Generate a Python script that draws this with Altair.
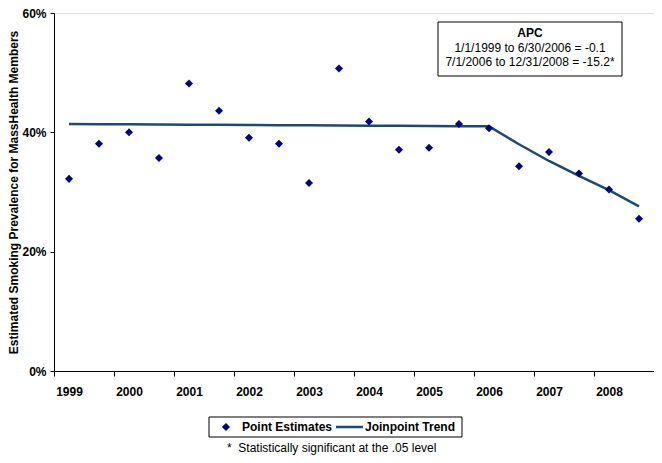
import json
import altair as alt
import pandas as pd

# ---- data ----
periods = ["1999 H1", "1999 H2", "2000 H1", "2000 H2", "2001 H1", "2001 H2",
           "2002 H1", "2002 H2", "2003 H1", "2003 H2", "2004 H1", "2004 H2",
           "2005 H1", "2005 H2", "2006 H1", "2006 H2", "2007 H1", "2007 H2",
           "2008 H1", "2008 H2"]
point_estimates = [32.2, 38.1, 40.0, 35.7, 48.2, 43.6, 39.1, 38.1, 31.5, 50.7,
                   41.8, 37.1, 37.4, 41.4, 40.7, 34.3, 36.7, 33.1, 30.4, 25.5]
joinpoint_trend = [41.40, 41.37, 41.34, 41.31, 41.29, 41.26, 41.23, 41.20, 41.17, 41.14,
                   41.11, 41.09, 41.06, 41.03, 41.00, 38.0, 35.2, 32.7, 30.3, 27.6]
year_labels = ["1999", "2000", "2001", "2002", "2003",
               "2004", "2005", "2006", "2007", "2008"]
y_ticks = [0, 0.2, 0.4, 0.6]
series_names = ["Point Estimates", "Joinpoint Trend"]
apc_lines = ["APC", "1/1/1999 to 6/30/2006 = -0.1", "7/1/2006 to 12/31/2008 = -15.2*"]
footnote = "*\u00a0\u00a0Statistically significant at the .05 level"

FONT = "Liberation Sans"
POINT_COLOR = "#000080"
LINE_COLOR = "#1F4A6E"

n = len(periods)
df = pd.DataFrame({
    "period": periods,
    "pos": [i + 0.5 for i in range(n)],
    "estimate": [v / 100 for v in point_estimates],
    "trend": [v / 100 for v in joinpoint_trend],
})

label_js = json.dumps(year_labels)
x_scale = alt.Scale(domain=[0, n], nice=False, zero=False)
x_axis = alt.Axis(
    values=list(range(0, n + 1)),
    labelExpr=f"datum.value % 2 == 0 && datum.value < {n} ? {label_js}[datum.value/2] : ''",
    labelOffset=15, labelFont=FONT, labelFontSize=12, labelFontWeight="bold",
    labelColor="black", labelPadding=10, tickSize=5, tickColor="black",
    domainColor="black", grid=False, title=None, labelFlush=False, labelOverlap=False,
)
y_scale = alt.Scale(domain=[0, 0.6], nice=False)
y_axis = alt.Axis(
    values=y_ticks, format=".0%", labelFont=FONT, labelFontSize=12,
    labelFontWeight="bold", labelColor="black", labelPadding=4, tickSize=4,
    tickColor="black", domainColor="black", grid=False,
    title="Estimated Smoking Prevalence for MassHealth Members",
    titleFont=FONT, titleFontSize=12, titleFontWeight="bold", titleColor="black",
    titlePadding=1,
)

line = alt.Chart(df).mark_line(strokeWidth=2.5, color=LINE_COLOR).encode(
    x=alt.X("pos:Q", scale=x_scale, axis=x_axis),
    y=alt.Y("trend:Q", scale=y_scale, axis=y_axis),
)
points = alt.Chart(df).mark_point(
    filled=True, shape="diamond", size=20, color=POINT_COLOR,
    stroke=POINT_COLOR, strokeWidth=2.5, opacity=1
).encode(
    x=alt.X("pos:Q", scale=x_scale),
    y=alt.Y("estimate:Q", scale=y_scale),
)

one = pd.DataFrame({"a": [0]})

def text_layer(t, x, y, bold=False, align="center"):
    return alt.Chart(pd.DataFrame({"t": [t]})).mark_text(
        font=FONT, fontSize=12, fontWeight="bold" if bold else "normal",
        color="black", baseline="middle", align=align
    ).encode(x=alt.value(x), y=alt.value(y), text="t:N")

# APC annotation box
apc_box = alt.Chart(one).mark_rect(fill="white", stroke="black", strokeWidth=1).encode(
    x=alt.value(384), x2=alt.value(568), y=alt.value(9), y2=alt.value(63))
apc_title = text_layer(apc_lines[0], 476, 20, bold=True)
apc_l1 = text_layer(apc_lines[1], 476, 35)
apc_l2 = text_layer(apc_lines[2], 476, 49)

# legend (drawn as annotation)
leg_box = alt.Chart(one).mark_rect(fill="white", stroke="black", strokeWidth=1).encode(
    x=alt.value(155), x2=alt.value(408), y=alt.value(404), y2=alt.value(424))
leg_pt = alt.Chart(one).mark_point(
    filled=True, shape="diamond", size=20, color=POINT_COLOR,
    stroke=POINT_COLOR, strokeWidth=2.5, opacity=1
).encode(x=alt.value(172), y=alt.value(414))
leg_pt_txt = text_layer(series_names[0], 188, 414, bold=True, align="left")
leg_ln = alt.Chart(one).mark_rule(strokeWidth=2.5, color=LINE_COLOR).encode(
    x=alt.value(282), x2=alt.value(309), y=alt.value(414))
leg_ln_txt = text_layer(series_names[1], 311, 414, bold=True, align="left")

foot = text_layer(footnote, 173, 435, align="left")

chart = alt.layer(
    line, points, apc_box, apc_title, apc_l1, apc_l2,
    leg_box, leg_pt, leg_pt_txt, leg_ln, leg_ln_txt, foot
).properties(
    width=600, height=358,
    autosize=alt.AutoSizeParams(type="none"),
    padding={"left": 46, "top": 5, "right": 0, "bottom": 84},
).configure_view(stroke=None).configure(background="white")

chart.save("out.html", embed_options={"renderer": "svg", "actions": False})
